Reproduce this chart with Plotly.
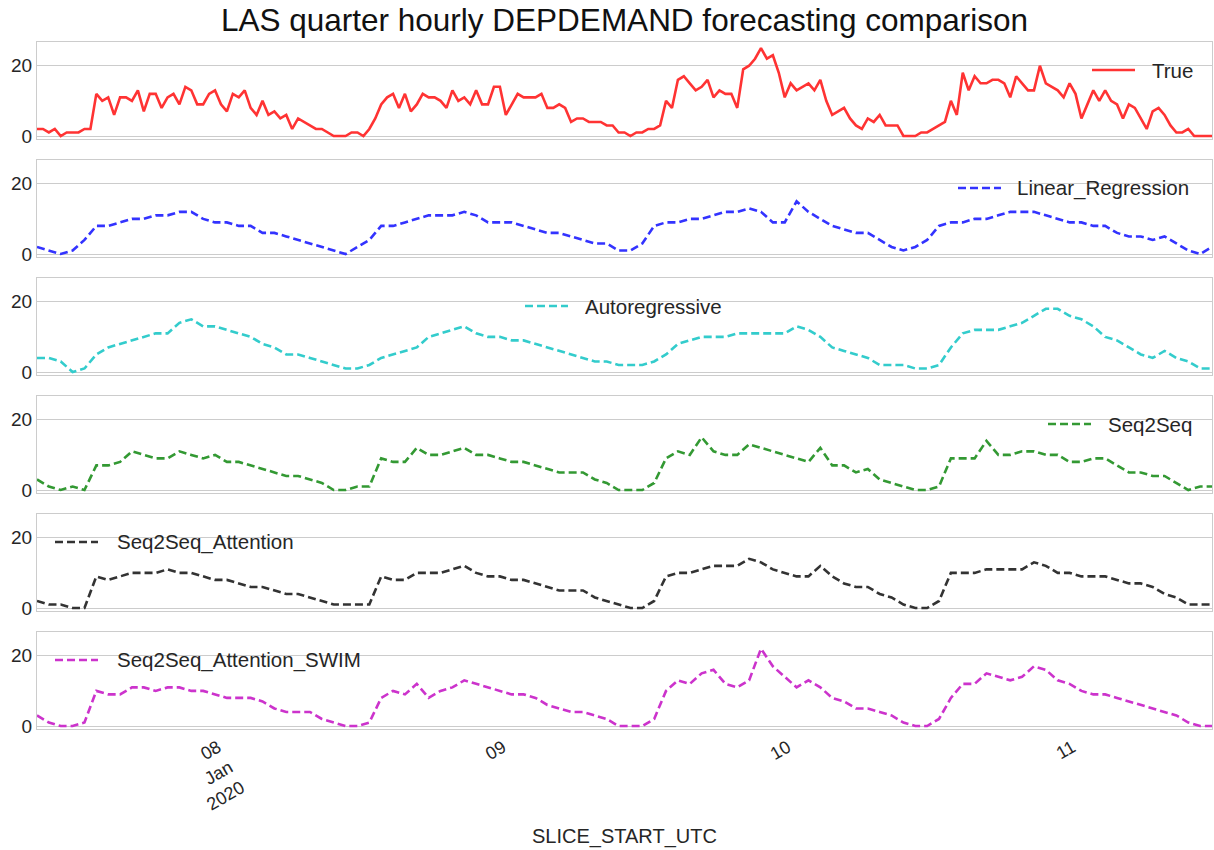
import pandas as pd
import plotly.graph_objects as go
from plotly.subplots import make_subplots

# time axis: forecasts hourly, observed series every 30 minutes
start_time = "2020-01-07 08:45"
times_hourly = pd.date_range(start_time, periods=100, freq="h")
times_half = pd.date_range(start_time, periods=199, freq="30min")

true_vals = [2, 2, 1, 2, 0, 1, 1, 1, 2, 2, 12, 10, 11, 6, 11, 11, 10, 13, 7, 12,
             12, 8, 11, 12, 9, 14, 13, 9, 9, 12, 13, 9, 7, 12, 11, 13, 8, 6, 10, 6,
             7, 5, 6, 2, 5, 4, 3, 2, 2, 1, 0, 0, 0, 1, 1, 0, 2, 5, 9, 11,
             12, 8, 12, 7, 9, 12, 11, 11, 10, 8, 13, 10, 11, 9, 13, 9, 9, 14, 14, 6,
             9, 12, 11, 11, 11, 12, 8, 8, 9, 8, 4, 5, 5, 4, 4, 4, 3, 3, 1, 1,
             0, 1, 1, 2, 2, 3, 10, 8, 16, 17, 15, 13, 14, 16, 11, 13, 12, 12, 8, 19,
             20, 22, 25, 22, 23, 18, 11, 15, 13, 14, 15, 13, 16, 10, 6, 7, 8, 5, 3, 2,
             5, 4, 6, 3, 3, 3, 0, 0, 0, 1, 1, 2, 3, 4, 10, 6, 18, 13, 17, 15,
             15, 16, 16, 15, 11, 17, 15, 13, 13, 20, 15, 14, 13, 11, 15, 12, 5, 9, 13, 10,
             13, 10, 9, 5, 9, 8, 5, 2, 7, 8, 6, 3, 1, 1, 2, 0, 0, 0, 0]

linear_regression = [2, 1, 0, 1, 4, 8, 8, 9, 10, 10,
                     11, 11, 12, 12, 10, 9, 9, 8, 8, 6,
                     6, 5, 4, 3, 2, 1, 0, 2, 4, 8,
                     8, 9, 10, 11, 11, 11, 12, 11, 9, 9,
                     9, 8, 7, 6, 6, 5, 4, 3, 3, 1,
                     1, 3, 8, 9, 9, 10, 10, 11, 12, 12,
                     13, 12, 9, 9, 15, 12, 10, 8, 7, 6,
                     6, 4, 2, 1, 2, 4, 8, 9, 9, 10,
                     10, 11, 12, 12, 12, 11, 10, 9, 9, 8,
                     8, 6, 5, 5, 4, 5, 3, 1, 0, 2]

autoregressive = [4, 4, 3, 0, 1, 5, 7, 8, 9, 10,
                  11, 11, 14, 15, 13, 13, 12, 11, 10, 8,
                  7, 5, 5, 4, 3, 2, 1, 1, 2, 4,
                  5, 6, 7, 10, 11, 12, 13, 11, 10, 10,
                  9, 9, 8, 7, 6, 5, 4, 3, 3, 2,
                  2, 2, 3, 5, 8, 9, 10, 10, 10, 11,
                  11, 11, 11, 11, 13, 12, 10, 7, 6, 5,
                  4, 2, 2, 2, 1, 1, 2, 7, 11, 12,
                  12, 12, 13, 14, 16, 18, 18, 16, 15, 13,
                  10, 9, 7, 5, 4, 6, 4, 3, 1, 1]

seq2seq = [3, 1, 0, 1, 0, 7, 7, 8, 11, 10,
           9, 9, 11, 10, 9, 10, 8, 8, 7, 6,
           5, 4, 4, 3, 2, 0, 0, 1, 1, 9,
           8, 8, 12, 10, 10, 11, 12, 10, 10, 9,
           8, 8, 7, 6, 5, 5, 5, 3, 2, 0,
           0, 0, 2, 9, 11, 10, 15, 11, 10, 10,
           13, 12, 11, 10, 9, 8, 12, 7, 7, 5,
           6, 3, 2, 1, 0, 0, 1, 9, 9, 9,
           14, 10, 10, 11, 11, 10, 10, 8, 8, 9,
           9, 7, 5, 5, 4, 4, 2, 0, 1, 1]

seq2seq_attention = [2, 1, 1, 0, 0, 9, 8, 9, 10, 10,
                     10, 11, 10, 10, 9, 8, 8, 7, 6, 6,
                     5, 4, 4, 3, 2, 1, 1, 1, 1, 9,
                     8, 8, 10, 10, 10, 11, 12, 10, 9, 9,
                     8, 8, 7, 6, 5, 5, 5, 3, 2, 1,
                     0, 0, 2, 9, 10, 10, 11, 12, 12, 12,
                     14, 13, 11, 10, 9, 9, 12, 9, 7, 6,
                     6, 4, 3, 1, 0, 0, 2, 10, 10, 10,
                     11, 11, 11, 11, 13, 12, 10, 10, 9, 9,
                     9, 8, 7, 7, 6, 4, 3, 1, 1, 1]

seq2seq_attention_swim = [3, 1, 0, 0, 1, 10, 9, 9, 11, 11,
                          10, 11, 11, 10, 10, 9, 8, 8, 8, 7,
                          5, 4, 4, 4, 2, 1, 0, 0, 1, 8,
                          10, 9, 12, 8, 10, 11, 13, 12, 11, 10,
                          9, 9, 8, 6, 5, 4, 4, 3, 2, 0,
                          0, 0, 2, 10, 13, 12, 15, 16, 12, 11,
                          13, 22, 17, 14, 11, 13, 11, 8, 7, 5,
                          5, 4, 3, 1, 0, 0, 2, 8, 12, 12,
                          15, 14, 13, 14, 17, 16, 13, 12, 10, 9,
                          9, 8, 7, 6, 5, 4, 3, 1, 0, 0]

series_names = ["True", "Linear_Regression", "Autoregressive", "Seq2Seq",
                "Seq2Seq_Attention", "Seq2Seq_Attention_SWIM"]
series_values = [true_vals, linear_regression, autoregressive, seq2seq,
                 seq2seq_attention, seq2seq_attention_swim]
series_times = [times_half] + [times_hourly] * 5
series_colors = ["#ff3333", "#3333ff", "#33cccc", "#339933", "#333333", "#cc33cc"]
series_dash = ["solid", "8px,4px", "8px,4px", "8px,4px", "8px,4px", "8px,4px"]

tick_dates = ["2020-01-08", "2020-01-09", "2020-01-10", "2020-01-11"]
tick_labels = ["08<br>Jan<br>2020", "09", "10", "11"]
y_ticks = [0, 20]
y_range = [-0.85, 26.76]

title_text = "LAS quarter hourly DEPDEMAND forecasting comparison"
x_label = "SLICE_START_UTC"

FONT = "Liberation Sans, Arial, sans-serif"
TXT = "#262626"
GRID = "#cccccc"

W, H = 1214, 850
ML, MR, MT, MB = 37, 2, 42, 121
PW, PH = W - ML - MR, H - MT - MB


def px_x(v):
    return (v - ML) / PW


def px_y(v):
    return 1 - (v - MT) / PH


# per-panel legend placement in pixels: line start, line end, text start, y
legend_px = [(1092, 1135, 1150, 70), (958, 1001, 1015, 188),
             (525, 568, 583, 306), (1048, 1091, 1106, 424),
             (55, 98, 115, 542), (55, 98, 115, 660)]

fig = make_subplots(rows=6, cols=1, shared_xaxes=True, vertical_spacing=0.0306)

for i in range(6):
    fig.add_trace(go.Scatter(
        x=series_times[i], y=series_values[i], mode="lines", name=series_names[i],
        line=dict(color=series_colors[i], width=2.6, dash=series_dash[i]),
        showlegend=False), row=i + 1, col=1)

shapes = []
annotations = []
for i, (x1, x2, tx, yy) in enumerate(legend_px):
    shapes.append(dict(type="line", xref="paper", yref="paper",
                       x0=px_x(x1), x1=px_x(x2), y0=px_y(yy), y1=px_y(yy),
                       line=dict(color=series_colors[i], width=2.6,
                                 dash=series_dash[i])))
    annotations.append(dict(text=series_names[i], xref="paper", yref="paper",
                            x=px_x(tx), y=px_y(yy), xanchor="left", yanchor="middle",
                            showarrow=False,
                            font=dict(family=FONT, size=20.5, color=TXT)))

annotations.append(dict(text=x_label, xref="paper", yref="paper",
                        x=0.5, y=px_y(836), xanchor="center", yanchor="middle",
                        showarrow=False, font=dict(family=FONT, size=20, color=TXT)))

fig.update_yaxes(range=y_range, tickvals=y_ticks, showgrid=True,
                 gridcolor=GRID, gridwidth=1, zeroline=False,
                 showline=True, linecolor=GRID, linewidth=1.2, mirror=True,
                 ticks="", tickfont=dict(family=FONT, size=19, color=TXT))
fig.update_xaxes(range=[times_hourly[0], times_hourly[-1]], showgrid=False,
                 zeroline=False, showline=True, linecolor=GRID, linewidth=1.2,
                 mirror=True, ticks="", tickvals=pd.to_datetime(tick_dates),
                 ticktext=tick_labels, tickangle=-30,
                 tickfont=dict(family=FONT, size=18, color=TXT))

fig.update_layout(
    width=W, height=H,
    margin=dict(l=ML, r=MR, t=MT, b=MB),
    plot_bgcolor="white", paper_bgcolor="white",
    title=dict(text=title_text, x=0.5, xref="paper", y=1 - 20 / H,
               yanchor="middle", xanchor="center",
               font=dict(family=FONT, size=31.5, color="#111111")),
    shapes=shapes,
    annotations=annotations,
)

fig.write_html("out.html", config={"displayModeBar": False},
               post_script="document.body.style.margin='0';document.body.style.overflow='hidden';")
